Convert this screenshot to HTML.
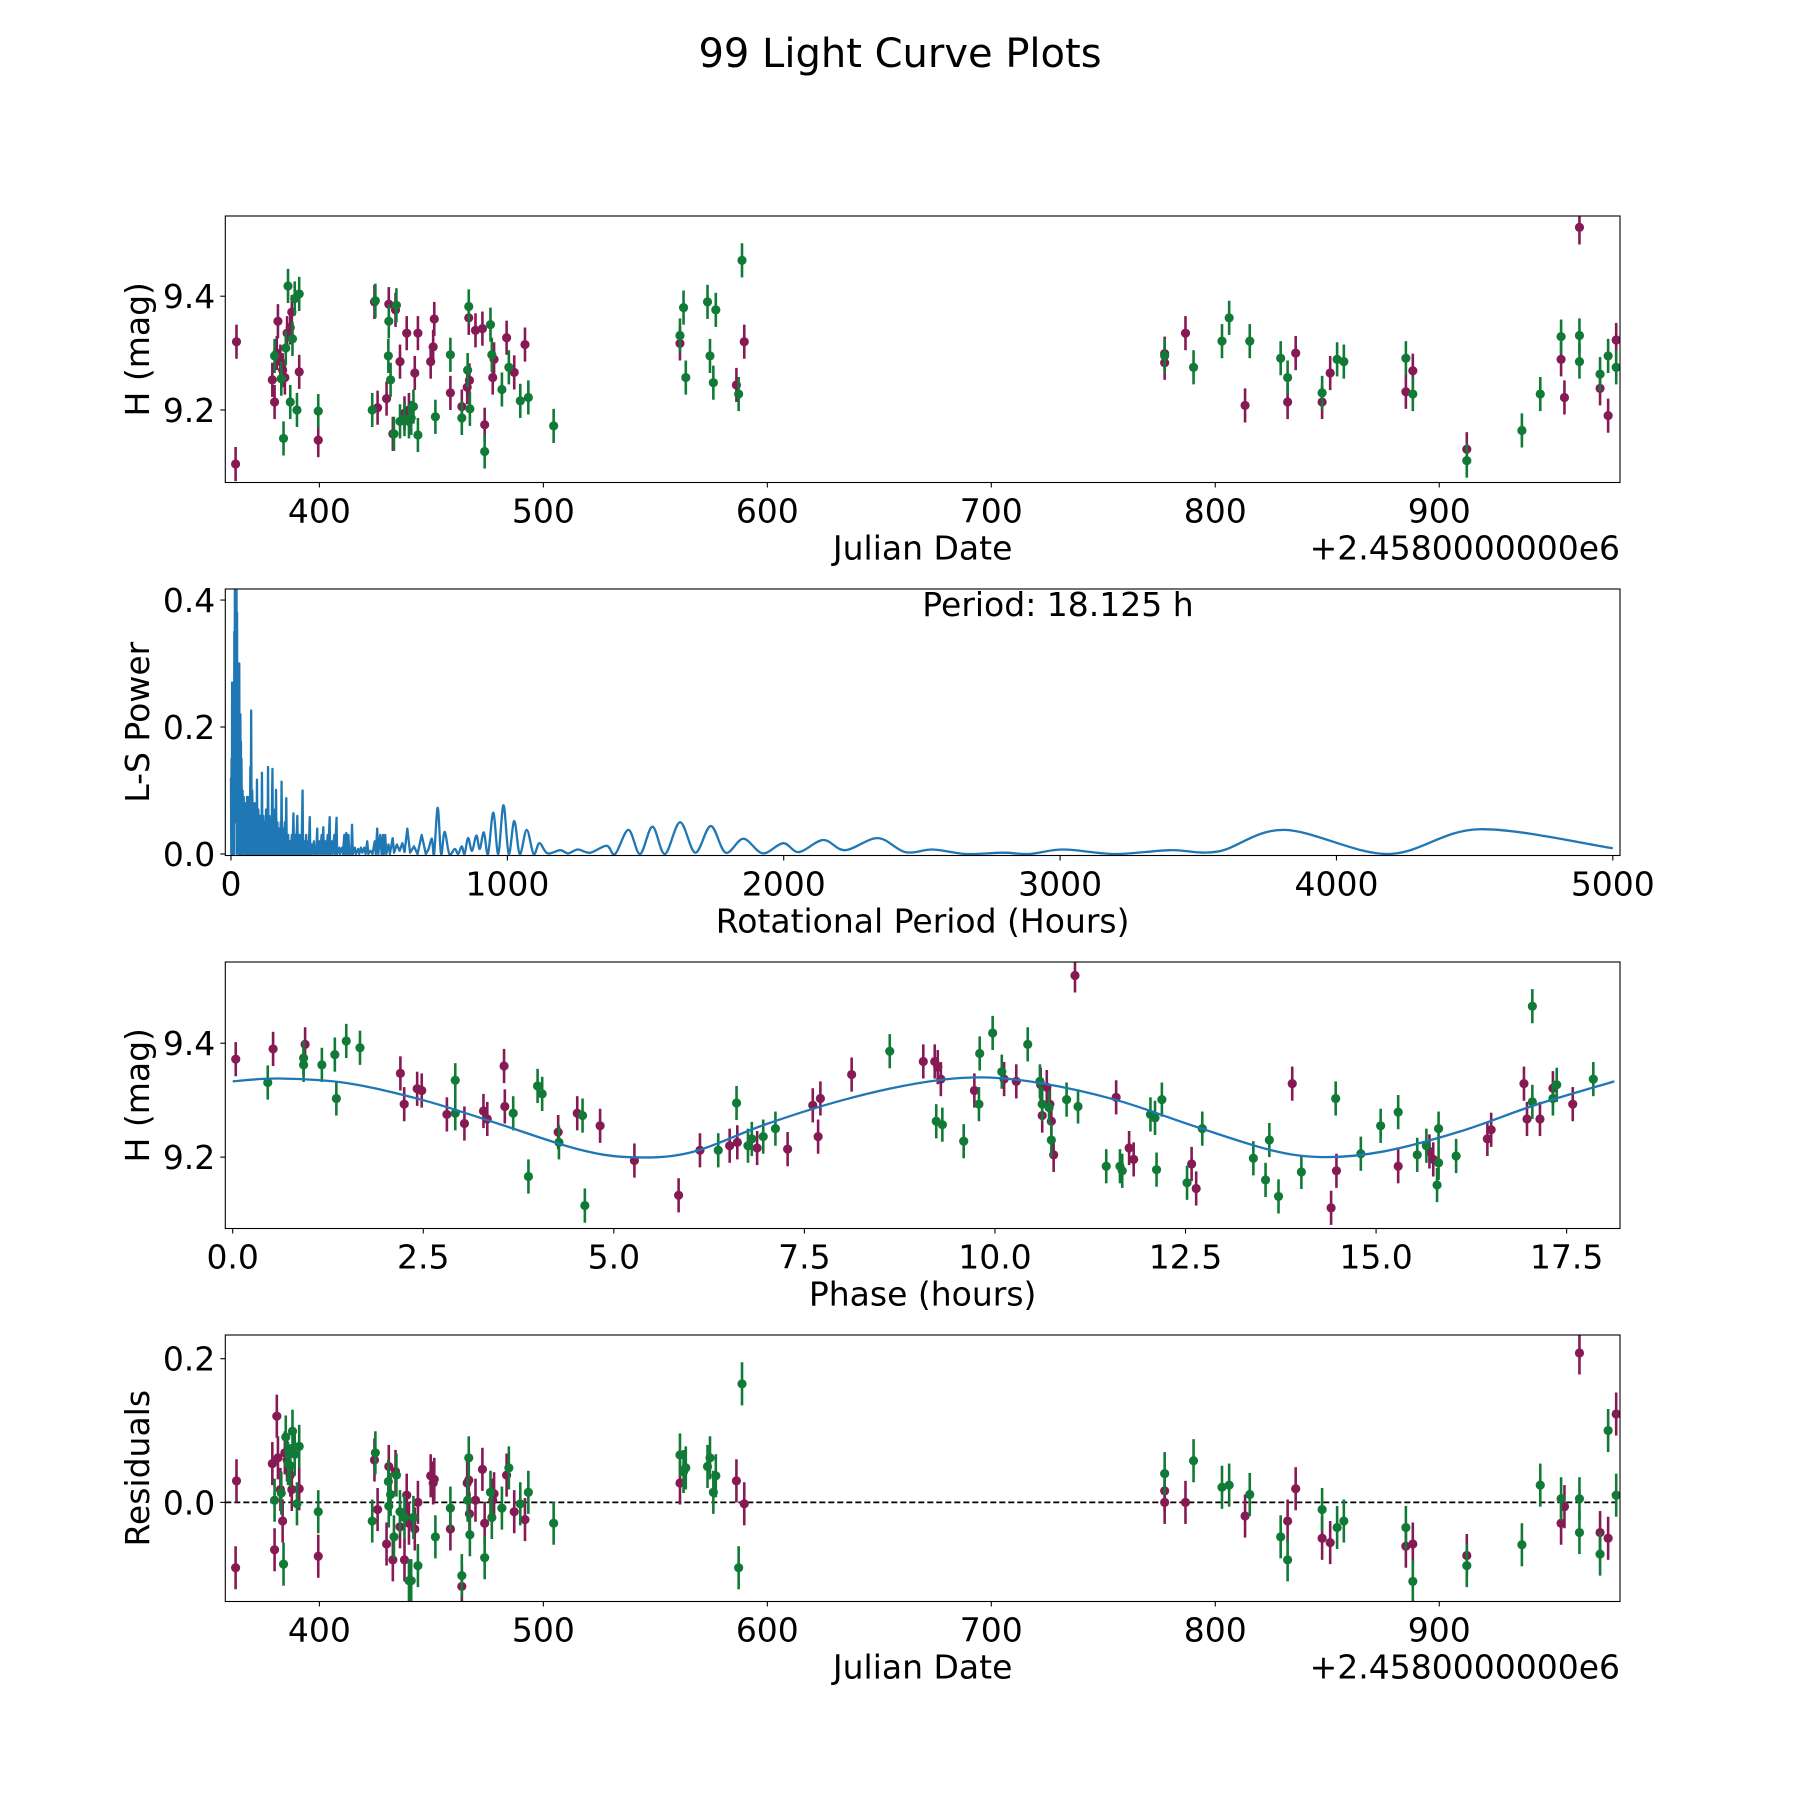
<!DOCTYPE html>
<html><head><meta charset="utf-8"><title>99 Light Curve Plots</title>
<style>
html,body{margin:0;padding:0;background:#fff;}
svg{display:block;font-family:"DejaVu Sans","Liberation Sans",sans-serif;}
</style></head>
<body>
<svg id="fig" width="1800" height="1800" viewBox="0 0 1800 1800" xmlns="http://www.w3.org/2000/svg">
<rect width="1800" height="1800" fill="#fff"/>
<text x="900" y="67" font-size="40" text-anchor="middle">99 Light Curve Plots</text>
</svg>
<script>
// ---------- Panel 1 / 4 data (Julian date offset from 2458000) ----------
const jdPurple = [362.6,363,379,380,381,381.5,382.6,383.6,384.6,385.6,387,387.7,391,399.5,424.6,426,430,431,432.8,434,436,438,439,440,442.6,444,449.7,450.8,451.3,458.5,463.6,466,466.7,467,469.7,472.8,473.8,477.4,478,483.6,487,491.8,561,586.2,589.7,777.4,777.4,786.7,813.3,832.3,835.9,847.7,851.3,885.1,888.2,912.3,954.4,955.9,962.6,971.8,975.4,979];
const magPurple = [9.105,9.32,9.253,9.214,9.30,9.356,9.285,9.27,9.257,9.335,9.345,9.372,9.267,9.147,9.39,9.204,9.22,9.386,9.158,9.376,9.285,9.194,9.335,9.2,9.265,9.335,9.285,9.311,9.36,9.23,9.206,9.24,9.362,9.252,9.34,9.343,9.174,9.257,9.289,9.327,9.266,9.315,9.317,9.244,9.32,9.299,9.283,9.335,9.208,9.214,9.30,9.214,9.265,9.232,9.269,9.131,9.289,9.222,9.521,9.238,9.19,9.323];
const jdGreen = [380,383,384,385,386,387,388,389,390,391,399.5,423.6,425,430.8,431,431.8,433.3,434.4,436,438,440,441,442,444,451.8,458.5,463.6,466.2,466.7,467.2,473.8,476.4,477,481.5,484.6,489.7,493.3,504.6,561,562.6,563.6,573.3,574.4,575.9,577,587.2,588.7,777.4,790.3,803,806.2,815.4,829.2,832.3,847.7,854.4,857.4,885.1,888.2,912.3,936.9,945.1,954.4,962.6,962.6,971.8,975.4,979];
const magGreen = [9.295,9.255,9.15,9.309,9.418,9.214,9.325,9.396,9.2,9.404,9.198,9.2,9.392,9.295,9.356,9.253,9.158,9.384,9.18,9.184,9.18,9.186,9.206,9.156,9.188,9.297,9.186,9.27,9.382,9.202,9.127,9.35,9.297,9.236,9.275,9.216,9.222,9.172,9.331,9.38,9.257,9.39,9.295,9.248,9.376,9.228,9.463,9.295,9.275,9.321,9.362,9.321,9.291,9.257,9.23,9.289,9.285,9.291,9.228,9.111,9.164,9.228,9.329,9.331,9.285,9.263,9.295,9.275];
const resPurple = [-0.091,0.03,0.054,-0.066,0.12,0.062,0.018,-0.026,0.069,0.059,0.038,0.018,0.019,-0.075,0.059,-0.01,-0.058,0.05,-0.08,0.043,-0.034,-0.08,0.01,-0.029,-0.037,0.0,0.037,0.027,0.032,-0.037,-0.117,0.027,0.031,-0.016,0.003,0.046,-0.029,0.003,0.012,0.038,-0.013,-0.024,0.027,0.03,-0.002,0.016,0.0,0.0,-0.019,-0.026,0.019,-0.05,-0.056,-0.061,-0.058,-0.074,-0.029,-0.006,0.208,-0.042,-0.05,0.123];
const resGreen = [0.003,0.013,-0.086,0.091,0.054,0.051,0.099,0.067,-0.002,0.078,-0.013,-0.026,0.069,0.029,-0.005,0.011,-0.048,0.038,-0.013,-0.021,-0.109,-0.109,-0.021,-0.088,-0.048,-0.008,-0.102,0.003,0.062,-0.045,-0.077,0.014,-0.021,-0.008,0.048,-0.002,0.014,-0.029,0.066,0.043,0.048,0.05,0.062,0.014,0.037,-0.091,0.165,0.04,0.058,0.021,0.024,0.011,-0.048,-0.08,-0.01,-0.035,-0.026,-0.035,-0.11,-0.088,-0.059,0.024,0.005,-0.042,0.005,-0.072,0.1,0.01];
const magErr = 0.03;

// ---------- Panel 2 periodogram ----------
const lsPeriod = [0,1,2,3,4,5,6,7,8,9,10,11,12,13,14,15,16,17,18,19,20,21,22,23,24,25,26,27,28,29,30,31,32,33,34,35,36,37,38,40,42,44,46,48,50,52,54,56,58,60,62,64,66,68,70,71,73,75,77,79,81,83,85,87,90,92,94,96,99,101,104,106,109,110,112,114,117,119,122,124,127,129,131,132,134,136,139,141,144,146,150,152,155,157,160,161,163,165,168,170,174,176,180,181,183,185,189,191,195,197,200,202,207,209,214,216,220,222,226,228,233,235,240,242,247,249,253,255,259,261,266,268,272,274,279,281,285,287,292,294,300,302,306,308,312,314,320,322,328,330,334,336,342,344,350,352,357,359,365,367,374,376,382,384,392,394,402,405,410,413,417,420,425,428,433,435,438,441,448,452,460,464,470,475,482,487,493,497,505,512,520,524,529,533,540,545,550,553,558,562,570,575,585,590,600,610,620,628,638,648,662,675,690,705,715,727,735,748,760,773,790,810,822,835,845,858,872,888,900,915,930,949,967,986,1005,1025,1045,1070,1095,1116,1145,1191,1220,1255,1300,1359,1390,1438,1480,1525,1570,1625,1680,1736,1790,1854,1924,1998,2055,2143,2222,2340,2440,2540,2659,2794,2888,3012,3200,3397,3573,3811,4185,4517,5000];
const lsPower = [0.12,0.0,0.15,0.01,0.27,0.02,0.13,0.0,0.27,0.03,0.2,0.0,0.35,0.05,0.42,0.1,0.45,0.12,0.45,0.05,0.45,0.0,0.38,0.1,0.3,0.02,0.3,0.08,0.3,0.0,0.3,0.05,0.18,0.0,0.22,0.03,0.177,0.0,0.15,0.0,0.1,0.0,0.09,0.01,0.08,0.0,0.07,0.0,0.09,0.0,0.06,0.0,0.09,0.0,0.137,0.0,0.226,0.0,0.1,0.0,0.07,0.0,0.08,0.0,0.06,0.0,0.117,0.0,0.07,0.0,0.06,0.0,0.05,0.0,0.128,0.0,0.06,0.0,0.05,0.0,0.07,0.0,0.05,0.0,0.137,0.0,0.06,0.0,0.05,0.0,0.134,0.0,0.07,0.0,0.05,0.0,0.101,0.0,0.05,0.0,0.04,0.0,0.05,0.0,0.114,0.0,0.04,0.0,0.05,0.0,0.088,0.0,0.03,0.0,0.02,0.0,0.03,0.0,0.064,0.0,0.03,0.0,0.06,0.0,0.03,0.0,0.03,0.0,0.1,0.0,0.02,0.0,0.03,0.0,0.02,0.0,0.058,0.0,0.015,0.0,0.02,0.0,0.01,0.0,0.04,0.0,0.02,0.0,0.03,0.0,0.042,0.0,0.02,0.0,0.03,0.0,0.058,0.0,0.02,0.0,0.03,0.0,0.057,0.0,0.01,0.0,0.01,0.0,0.03,0.0,0.033,0.0,0.03,0.0,0.01,0.0,0.046,0.0,0.01,0.0,0.008,0.0,0.01,0.002,0.01,0.0,0.02,0.0,0.005,0.0,0.02,0.0,0.04,0.0,0.03,0.0,0.03,0.0,0.03,0.0,0.015,0.0,0.025,0.002,0.015,0.005,0.017,0.003,0.04,0.002,0.012,0.0,0.03,0.0,0.008,0.024,0.0,0.073,0.0,0.035,0.0,0.008,0.0,0.012,0.0,0.025,0.005,0.029,0.008,0.034,0.0,0.065,0.0,0.077,0.0,0.052,0.0,0.038,0.0,0.017,0.001,0.006,0.001,0.007,0.002,0.013,0.0,0.038,0.0,0.043,0.0,0.05,0.002,0.044,0.002,0.024,0.001,0.017,0.003,0.022,0.006,0.025,0.003,0.007,0,0.002,0,0.007,0,0.006,0.004,0.038,0,0.039,0.009];

// ---------- Panel 3 phase-folded ----------
const phPurple = [0.04,0.53,0.95,2.2,2.25,2.42,2.48,2.81,3.04,3.29,3.34,3.56,3.57,4.27,4.52,4.82,5.27,5.85,6.13,6.52,6.62,6.88,7.28,7.61,7.68,7.71,8.12,9.06,9.21,9.25,9.29,9.73,10.12,10.28,10.6,10.62,10.68,10.72,10.74,10.77,11.05,11.59,11.76,11.82,12.58,12.64,13.9,14.41,14.48,15.29,15.7,16.94,16.46,16.51,16.98,17.15,17.32,17.58,15.75];
const phMagPurple = [9.372,9.39,9.398,9.347,9.293,9.32,9.317,9.275,9.259,9.281,9.267,9.36,9.289,9.244,9.277,9.255,9.194,9.133,9.212,9.22,9.226,9.216,9.214,9.291,9.236,9.303,9.345,9.368,9.368,9.358,9.337,9.317,9.337,9.333,9.327,9.273,9.323,9.293,9.263,9.204,9.519,9.305,9.216,9.196,9.188,9.145,9.329,9.111,9.176,9.184,9.21,9.329,9.232,9.248,9.267,9.267,9.321,9.293,9.196];
const phGreen = [0.46,0.93,0.93,1.17,1.36,1.34,1.49,1.67,2.92,2.92,3.88,4.0,4.06,3.68,4.28,4.59,4.62,6.37,6.61,6.76,6.81,6.96,7.12,8.62,9.23,9.31,9.59,9.79,9.8,9.97,10.09,10.43,10.59,10.62,10.71,10.74,10.94,11.09,11.46,11.64,11.67,12.04,12.1,12.12,12.19,12.52,12.72,13.39,13.55,13.6,13.72,14.02,14.8,15.06,15.29,15.54,14.47,15.66,15.8,15.82,15.82,16.05,17.05,17.05,17.32,17.37,17.85];
const phMagGreen = [9.331,9.374,9.362,9.362,9.303,9.38,9.404,9.392,9.335,9.277,9.166,9.325,9.311,9.277,9.226,9.273,9.115,9.212,9.295,9.22,9.232,9.236,9.25,9.386,9.263,9.257,9.228,9.293,9.382,9.418,9.35,9.398,9.333,9.293,9.287,9.23,9.301,9.289,9.184,9.184,9.176,9.275,9.269,9.178,9.301,9.155,9.25,9.198,9.16,9.23,9.131,9.174,9.206,9.255,9.279,9.204,9.303,9.22,9.151,9.19,9.25,9.202,9.465,9.297,9.303,9.327,9.337];
const modelPhase = [0,0.6,1.5,2.5,3.5,4.5,5.2,6,7,8,9,9.8,10.6,11.6,12.6,13.6,14.3,15.1,16.1,17.1,18.125];
const modelMag = [9.333,9.338,9.33,9.3,9.258,9.215,9.2,9.208,9.258,9.3,9.33,9.34,9.33,9.3,9.255,9.213,9.2,9.21,9.245,9.292,9.333];

const jdTicks = [400,500,600,700,800,900];
const magTicks = [9.2,9.4];
const lsXTicks = [0,1000,2000,3000,4000,5000];
const lsYTicks = [0.0,0.2,0.4];
const phTicks = [0.0,2.5,5.0,7.5,10.0,12.5,15.0,17.5];
const resTicks = [0.0,0.2];

const PURPLE = '#861a54', GREEN = '#117a36', BLUE = '#1f77b4';
const NS = 'http://www.w3.org/2000/svg';
const svg = document.getElementById('fig');
const L = 225.3, R = 1620, H = 266.5;
const tops = [216, 589, 962, 1335];
const FS = 33;

function mk(tag, attrs, parent) {
  const e = document.createElementNS(NS, tag);
  for (const k in attrs) e.setAttribute(k, attrs[k]);
  (parent || svg).appendChild(e);
  return e;
}
function scale(d0, d1, r0, r1) { return v => r0 + (v - d0) / (d1 - d0) * (r1 - r0); }

function makeAxes(i, xlim, ylim, name) {
  const top = tops[i], bot = top + H;
  const g = mk('g', {});
  
  
  const clipId = 'clip' + i;
  const cp = mk('clipPath', {id: clipId}, g);
  mk('rect', {x: L, y: top, width: R - L, height: H}, cp);
  const plot = mk('g', {'clip-path': 'url(#' + clipId + ')'}, g);
  
  
  return {g, plot, top, bot, x: scale(xlim[0], xlim[1], L, R), y: scale(ylim[0], ylim[1], bot, top)};
}
function frame(ax, name) {
  const f = mk('rect', {x: L, y: ax.top, width: R - L, height: H, fill: 'none', stroke: '#000', 'stroke-width': 1.1}, ax.g);
  
  
}
function xTicks(ax, ticks, fmt, name) {
  ticks.forEach(t => {
    const px = ax.x(t);
    mk('line', {x1: px, x2: px, y1: ax.bot, y2: ax.bot + 5, stroke: '#000', 'stroke-width': 1.1}, ax.g);
    const tx = mk('text', {x: px, y: ax.bot + 40, 'font-size': FS, 'text-anchor': 'middle'}, ax.g);
    
    
    tx.textContent = fmt(t);
  });
}
function yTicks(ax, ticks, fmt, name) {
  ticks.forEach(t => {
    const py = ax.y(t);
    mk('line', {x1: L - 5, x2: L, y1: py, y2: py, stroke: '#000', 'stroke-width': 1.1}, ax.g);
    const tx = mk('text', {x: L - 10, y: py + 12, 'font-size': FS, 'text-anchor': 'end'}, ax.g);
    
    
    tx.textContent = fmt(t);
  });
}
function labels(ax, xl, yl, name) {
  const t1 = mk('text', {x: (L + R) / 2, y: ax.bot + 77, 'font-size': FS, 'text-anchor': 'middle'}, ax.g);
  
  
  t1.textContent = xl;
  const cy = ax.top + H / 2;
  const t2 = mk('text', {x: 149, y: cy, 'font-size': FS, 'text-anchor': 'middle', transform: 'rotate(-90 149 ' + cy + ')'}, ax.g);
  
  
  t2.textContent = yl;
}
function offsetText(ax, name) {
  const t = mk('text', {x: R, y: ax.bot + 77, 'font-size': FS, 'text-anchor': 'end'}, ax.g);
  
  
  t.textContent = '+2.4580000000e6';
}
function errPoints(ax, xs, ys, err, color, name) {
  const g = mk('g', {}, ax.plot);
  
  
  xs.forEach((xv, k) => {
    const px = ax.x(xv), py = ax.y(ys[k]);
    const y1 = ax.y(ys[k] + err), y2 = ax.y(ys[k] - err);
    const ln = mk('line', {x1: px, x2: px, y1: y1, y2: y2, stroke: color, 'stroke-width': 2.6}, g);
    
    
    const c = mk('circle', {cx: px, cy: py, r: 4.6, fill: color}, g);
    
    
  });
}
function catmull(pts) {
  let s = '';
  for (let k = 0; k < pts.length - 1; k++) {
    const p0 = pts[Math.max(k - 1, 0)], p1 = pts[k], p2 = pts[k + 1], p3 = pts[Math.min(k + 2, pts.length - 1)];
    const c1 = [p1[0] + (p2[0] - p0[0]) / 6, p1[1] + (p2[1] - p0[1]) / 6];
    const c2 = [p2[0] - (p3[0] - p1[0]) / 6, p2[1] - (p3[1] - p1[1]) / 6];
    s += 'C' + c1[0].toFixed(2) + ' ' + c1[1].toFixed(2) + ' ' + c2[0].toFixed(2) + ' ' + c2[1].toFixed(2) + ' ' + p2[0].toFixed(2) + ' ' + p2[1].toFixed(2);
  }
  return s;
}

const jdLim = [358.0, 980.7];
const magLim = [9.0725, 9.541];

// Panel 1
const a1 = makeAxes(0, jdLim, magLim, 'light-curve-panel');
errPoints(a1, jdPurple, magPurple, magErr, PURPLE, 'purple-series');
errPoints(a1, jdGreen, magGreen, magErr, GREEN, 'green-series');
frame(a1, 'light-curve-panel');
xTicks(a1, jdTicks, t => String(t), 'light-curve');
yTicks(a1, magTicks, t => t.toFixed(1), 'light-curve');
labels(a1, 'Julian Date', 'H (mag)', 'light-curve');
offsetText(a1, 'light-curve');

// Panel 2
const a2 = makeAxes(1, [-20.6, 5026], [-0.0024, 0.4174], 'periodogram-panel');
let d = '';
let split = lsPeriod.findIndex(p => p >= 700);
for (let k = 0; k <= split; k++) {
  d += (k ? 'L' : 'M') + a2.x(lsPeriod[k]).toFixed(2) + ' ' + a2.y(lsPower[k]).toFixed(2);
}
const smoothPts = [];
for (let k = split; k < lsPeriod.length; k++) smoothPts.push([a2.x(lsPeriod[k]), a2.y(lsPower[k])]);
d += catmull(smoothPts);
const ln2 = mk('path', {d: d, fill: 'none', stroke: BLUE, 'stroke-width': 2.3, 'stroke-linejoin': 'round'}, a2.plot);


frame(a2, 'periodogram-panel');
xTicks(a2, lsXTicks, t => String(t), 'periodogram');
yTicks(a2, lsYTicks, t => t.toFixed(1), 'periodogram');
labels(a2, 'Rotational Period (Hours)', 'L-S Power', 'periodogram');
const per = mk('text', {x: 1058, y: 616, 'font-size': FS, 'text-anchor': 'middle'}, a2.g);


per.textContent = 'Period: 18.125 h';

// Panel 3
const a3 = makeAxes(2, [-0.097, 18.2], [9.0747, 9.5426], 'phase-panel');
errPoints(a3, phPurple, phMagPurple, magErr, PURPLE, 'phase-purple-series');
errPoints(a3, phGreen, phMagGreen, magErr, GREEN, 'phase-green-series');
const mp = modelPhase.map((p, k) => [a3.x(p), a3.y(modelMag[k])]);
const md = 'M' + mp[0][0] + ' ' + mp[0][1] + catmull(mp);
const ml = mk('path', {d: md, fill: 'none', stroke: BLUE, 'stroke-width': 2.3}, a3.plot);


frame(a3, 'phase-panel');
xTicks(a3, phTicks, t => t.toFixed(1), 'phase');
yTicks(a3, magTicks, t => t.toFixed(1), 'phase');
labels(a3, 'Phase (hours)', 'H (mag)', 'phase');

// Panel 4
const a4 = makeAxes(3, jdLim, [-0.138, 0.233], 'residuals-panel');
const zl = mk('line', {x1: L, x2: R, y1: a4.y(0), y2: a4.y(0), stroke: '#000', 'stroke-width': 1.7, 'stroke-dasharray': '6,3'}, a4.plot);


errPoints(a4, jdPurple, resPurple, magErr, PURPLE, 'residual-purple-series');
errPoints(a4, jdGreen, resGreen, magErr, GREEN, 'residual-green-series');
frame(a4, 'residuals-panel');
xTicks(a4, jdTicks, t => String(t), 'residuals');
yTicks(a4, resTicks, t => t.toFixed(1), 'residuals');
labels(a4, 'Julian Date', 'Residuals', 'residuals');
offsetText(a4, 'residuals');
</script>
</body></html>
